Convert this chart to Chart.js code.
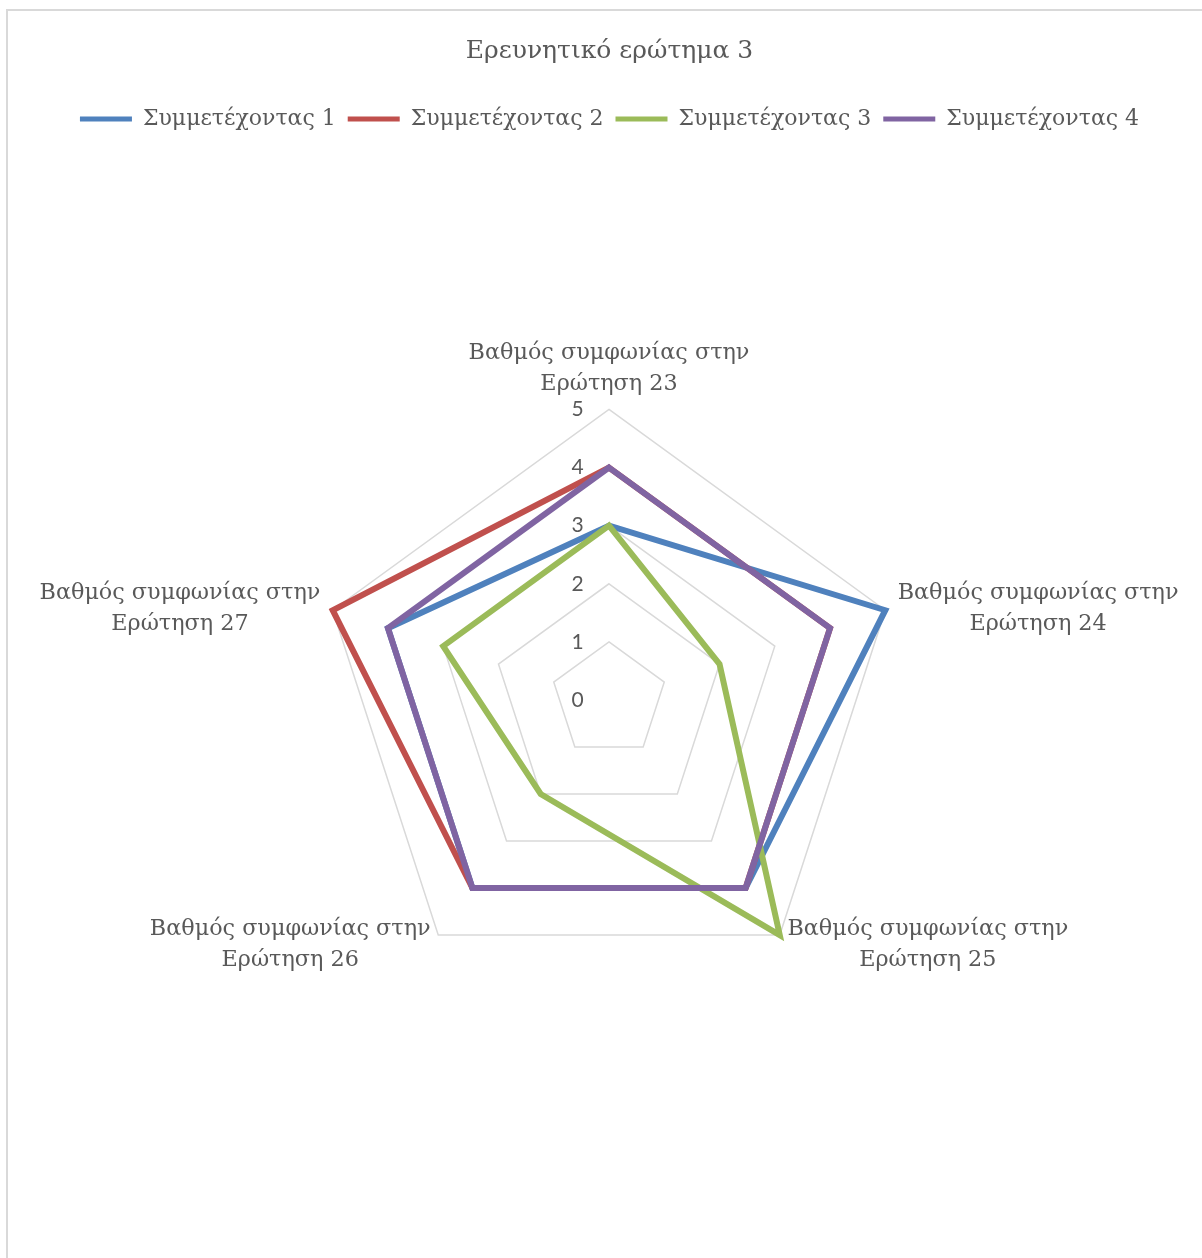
<!DOCTYPE html>
<html>
<head>
<meta charset="utf-8">
<title>Ερευνητικό ερώτημα 3</title>
<script src="https://cdn.jsdelivr.net/npm/chart.js@4.4.0/dist/chart.umd.min.js"></script>
<style>
    html, body { margin: 0; padding: 0; background: #fff; overflow: hidden; }
    #frame { position: absolute; left: 6px; top: 9px; width: 1300px; height: 1300px;
             border-top: 2px solid #d9d9d9; border-left: 2px solid #d9d9d9; }
    #radar-container { position: absolute; left: 8px; top: 9px; width: 1202px; height: 1249px; }
</style>
</head>
<body>
<div id="frame"></div>
<div id="radar-container"><canvas id="radar-chart"></canvas></div>
<script>
let questionLabels = [
    ['Βαθμός συμφωνίας στην', 'Ερώτηση 23'],
    ['Βαθμός συμφωνίας στην', 'Ερώτηση 24'],
    ['Βαθμός συμφωνίας στην', 'Ερώτηση 25'],
    ['Βαθμός συμφωνίας στην', 'Ερώτηση 26'],
    ['Βαθμός συμφωνίας στην', 'Ερώτηση 27']
];
let seriesNames = ['Συμμετέχοντας 1', 'Συμμετέχοντας 2', 'Συμμετέχοντας 3', 'Συμμετέχοντας 4'];
let participant1 = [3, 5, 4, 4, 4];
let participant2 = [4, 4, 4, 4, 5];
let participant3 = [3, 2, 5, 2, 3];
let participant4 = [4, 4, 4, 4, 4];
let seriesColors = ['#4f81bd', '#c0504d', '#9bbb59', '#8064a2'];
let scaleMax = 5, scaleStep = 1;

const textGrey = '#595959';
const labelLine = 31; // line height of the axis labels
// vertical nudge per axis label: side labels sit level with their corner
const labelShift = [3, labelLine + 3, -labelLine - 0.5, -labelLine - 0.5, labelLine + 3];

function makeSet(i, values) {
    return {
        label: seriesNames[i],
        data: values,
        borderColor: seriesColors[i],
        backgroundColor: seriesColors[i],
        borderWidth: 6,
        pointRadius: 0,
        pointBorderWidth: 5,
        pointBorderColor: seriesColors[i],
        pointBackgroundColor: seriesColors[i],
        fill: false,
        order: 3 - i   // later series drawn on top, like the original
    };
}

const radarData = {
    labels: questionLabels,
    datasets: [
        makeSet(0, participant1),
        makeSet(1, participant2),
        makeSet(2, participant3),
        makeSet(3, participant4)
    ]
};

const radarConfig = {
    type: 'radar',
    data: radarData,
    options: {
        responsive: true,
        maintainAspectRatio: false,
        animation: false,
        events: [],
        layout: {
            padding: { left: 31, right: 30, top: 0, bottom: 62 }
        },
        elements: {
            line: { tension: 0, borderJoinStyle: 'miter' }
        },
        plugins: {
            title: {
                display: true,
                text: 'Ερευνητικό ερώτημα 3',
                color: textGrey,
                font: { family: 'DejaVu Serif', size: 25, weight: 'normal' },
                padding: { top: 27, bottom: 30 }
            },
            legend: {
                position: 'top',
                labels: {
                    usePointStyle: true,
                    pointStyle: 'line',
                    pointStyleWidth: 52,
                    padding: 12,
                    color: textGrey,
                    font: { family: 'DejaVu Serif', size: 22 },
                    sort: (a, b) => a.datasetIndex - b.datasetIndex
                }
            },
            tooltip: { enabled: false }
        },
        scales: {
            r: {
                min: -0.000001,   // so the 0 tick gets a label
                max: scaleMax,
                angleLines: { display: false },
                grid: { color: '#d9d9d9', lineWidth: 1.5 },
                ticks: {
                    stepSize: scaleStep,
                    color: textGrey,
                    font: { family: 'Lato', size: 21 },
                    showLabelBackdrop: false,
                    backdropPadding: 0,
                    // trailing spaces push the number left of the axis
                    callback: (v) => Math.round(v) + '\u2003\u2003\u2003\u2003'
                },
                pointLabels: {
                    color: textGrey,
                    padding: 2.5,
                    font: { family: 'DejaVu Serif', size: 22.3, lineHeight: labelLine + 'px' }
                },
                afterFit: function (scale) {
                    (scale._pointLabelItems || []).forEach(function (item, i) {
                        item.x = (item.left + item.right) / 2;
                        item.textAlign = 'center';
                        let dy = labelShift[i];
                        item.y += dy;
                        item.top += dy;
                        item.bottom += dy;
                    });
                }
            }
        }
    }
};

const radarChart = new Chart(
    document.getElementById('radar-chart'),
    radarConfig
);
</script>
</body>
</html>
